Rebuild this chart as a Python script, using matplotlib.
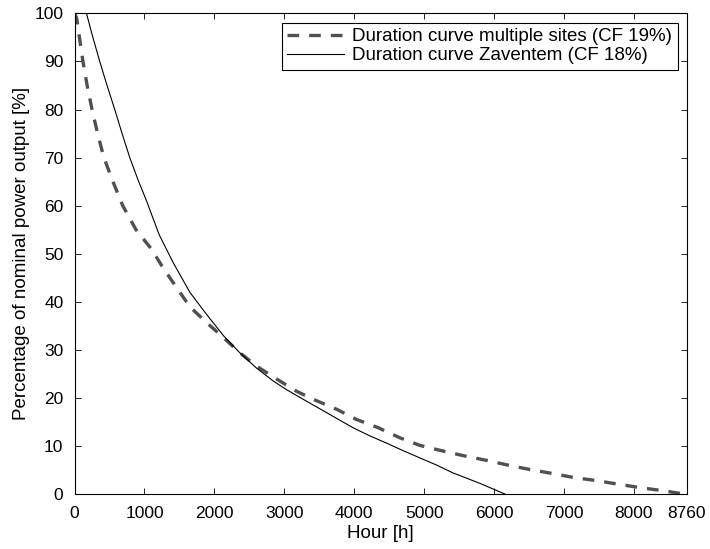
import numpy as np
import matplotlib.pyplot as plt

plt.rcParams['font.family'] = ['Liberation Sans', 'DejaVu Sans']

# duration curve, multiple sites (dashed)
hours_multi = [0, 30, 70, 120, 180, 250, 330, 420, 550, 690, 880, 1100, 1270, 1460,
               1650, 1890, 2100, 2360, 2600, 2890, 3170, 3410, 3750, 4030, 4340,
               4650, 4940, 5250, 5550, 5890, 6200, 6510, 6820, 7150, 7460, 7790,
               8100, 8410, 8760]
pct_multi = [100, 99, 95, 90, 85, 80, 75, 70, 65, 60, 55, 51, 47, 43,
             39, 35.7, 33, 29.5, 26.7, 24, 21.5, 19.8, 17.7, 15.6, 13.9,
             11.8, 10.2, 9.1, 8.1, 7.1, 6.1, 5.2, 4.4, 3.5, 2.9, 2.1,
             1.4, 0.8, 0]

# duration curve, Zaventem (solid)
hours_zav = [170, 262, 360, 465, 575, 680, 790, 905, 1030, 1210, 1410, 1650, 1890,
             2130, 2360, 2600, 2840, 3030, 3220, 3510, 3750, 3980, 4220, 4460,
             4700, 4940, 5180, 5410, 5800, 6170]
pct_zav = [100, 95, 90, 85, 80, 75, 70, 65.5, 61, 54, 48.2, 42, 37.4,
           33, 29.5, 26.3, 23.6, 21.8, 20.2, 17.8, 15.8, 13.9, 12.2, 10.7,
           9.1, 7.6, 6.1, 4.5, 2.3, 0]

xticks = [0, 1000, 2000, 3000, 4000, 5000, 6000, 7000, 8000, 8760]
yticks = np.arange(0, 101, 10)

fig = plt.figure(figsize=(7.1, 5.49), dpi=100)
ax = fig.add_axes([0.105, 0.0993, 0.8626, 0.8765])

ax.plot(hours_multi, pct_multi, color='#505050', lw=2.4, ls=(0, (3.5, 3.0)),
        label='Duration curve multiple sites (CF 19%)')
ax.plot(hours_zav, pct_zav, color='black', lw=0.8,
        label='Duration curve Zaventem (CF 18%)')

ax.set_xlim(0, 8760)
ax.set_ylim(0, 100)
ax.set_xticks(xticks)
ax.set_yticks(yticks)
ax.tick_params(direction='in', top=True, right=True, length=4, width=0.6,
               labelsize=12.5)
ax.tick_params(axis='x', pad=8)
ax.tick_params(axis='y', pad=8)
for s in ax.spines.values():
    s.set_linewidth(0.8)

ax.set_xlabel('Hour [h]', fontsize=13.5, labelpad=3)
ax.set_ylabel('Percentage of nominal power output [%]', fontsize=13.5, labelpad=3)

leg = ax.legend(loc='upper right', fontsize=13.5, fancybox=False, framealpha=1,
                edgecolor='black', borderpad=0.3, handlelength=3.0,
                labelspacing=0.1, borderaxespad=0.5, handletextpad=0.45)
leg.get_frame().set_linewidth(0.8)

fig.savefig('out.png', dpi=100)
